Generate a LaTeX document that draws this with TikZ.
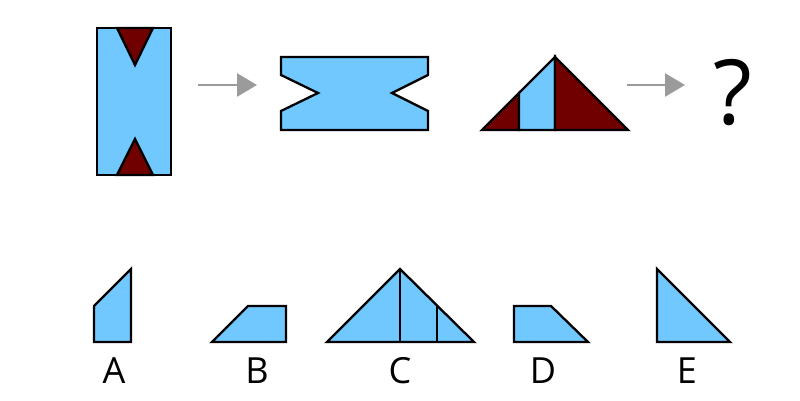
\documentclass[tikz,border=0pt]{standalone}
\usepackage{fontspec}
\setmainfont{Open Sans}
\usetikzlibrary{arrows.meta}

\definecolor{pblue}{RGB}{112,200,255}
\definecolor{pred}{RGB}{112,0,0}
\definecolor{agray}{RGB}{155,155,155}

\tikzset{
	piece/.style={draw=black, line width=2.3pt, fill=pblue, line join=miter},
	cut/.style={draw=black, line width=2.3pt, fill=pred, line join=miter},
	seq/.style={->, agray, line width=2.6pt},
	optlabel/.style={font=\fontsize{36}{36}\selectfont, inner sep=0pt}
}

\begin{document}
\begin{tikzpicture}[>={Triangle[length=20pt, width=23pt]}, x=1pt, y=-1pt]
			
			\useasboundingbox (0,0) rectangle (800,401);
			
			% folded strip with the two cut-outs
			\draw[piece] (97,28) rectangle (171,175);
			\draw[cut] (117,28) -- (153,28) -- (135,65) -- cycle;
			\draw[cut] (117,175) -- (153,175) -- (135,139) -- cycle;
			
			\coordinate (s1) at (198,85);
			\coordinate (e1) at (257,85);
			\draw[seq] (s1) -- (e1);
			
			% opened out
			\draw[piece] (281,57) -- (428,57) -- (428,75) -- (392,93) -- (428,111)
			-- (428,130) -- (281,130) -- (281,111) -- (318,93) -- (281,75) -- cycle;
			
			% the triangle
			\draw[cut] (482,130) -- (519,93) -- (519,130) -- cycle;
			\draw[piece] (519,130) -- (519,93) -- (555,57) -- (555,130) -- cycle;
			\draw[cut] (555,130) -- (555,57) -- (628,130) -- cycle;
			
			\coordinate (s2) at (627,85);
			\coordinate (e2) at (685,85);
			\draw[seq] (s2) -- (e2);
			
			\node[font=\fontsize{90}{90}\selectfont, inner sep=0pt] (qm) at (733,93) {?};
			
			% the answers
			\draw[piece] (94,342) -- (131,342) -- (131,269) -- (94,306) -- cycle;
			\node[optlabel] (la) at (114,371) {A};
			
			\draw[piece] (212,342) -- (286,342) -- (286,306) -- (248,306) -- cycle;
			\node[optlabel] (lb) at (257,371) {B};
			
			\draw[piece] (327,342) -- (400,269) -- (474,342) -- cycle;
			\draw[line width=2.3pt] (400,269) -- (400,342);
			\draw[line width=2.3pt] (437,306) -- (437,342);
			\node[optlabel] (lc) at (400,371) {C};
			
			\draw[piece] (514,342) -- (514,306) -- (551,306) -- (588,342) -- cycle;
			\node[optlabel] (ld) at (543,371) {D};
			
			\draw[piece] (657,269) -- (657,342) -- (730,342) -- cycle;
			\node[optlabel] (le) at (687,371) {E};
			
	\end{tikzpicture}
\end{document}
